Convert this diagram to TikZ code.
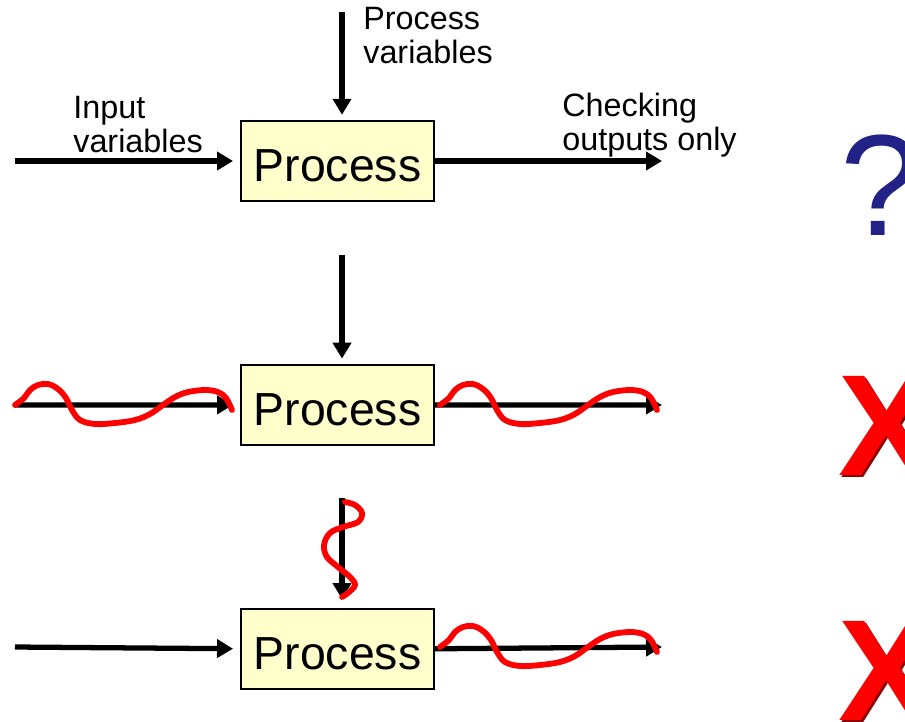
\documentclass[tikz,border=0pt]{standalone}
\usepackage{fontspec}
\setmainfont{Liberation Sans}
\usetikzlibrary{arrows.meta,positioning}
\definecolor{boxfill}{RGB}{255,255,204}
\definecolor{qnavy}{RGB}{34,34,134}
\definecolor{xshade}{RGB}{140,0,0}

\begin{document}
\begin{tikzpicture}[
  x=0.02cm, y=-0.02cm,
  node distance=3.24cm,
  proc/.style={draw, line width=1.1pt, fill=boxfill, inner sep=0pt,
               minimum width=3.86cm, minimum height=1.6cm,
               text height=23.5pt, text depth=0pt,
               font=\fontsize{26.4}{30}\selectfont},
  arr/.style={-{Triangle[length=3.2mm,width=3.6mm]}, line width=3pt},
  lbl/.style={align=left, inner sep=0pt, font=\fontsize{18.4}{19.4}\selectfont},
  noise/.style={red, line width=3.3pt, line cap=round, line join=round},
  verdict/.style={inner sep=0pt, anchor=base west,
                  font=\fontsize{82}{82}\selectfont}
]
  \useasboundingbox (0,0) rectangle (905,721);

  % three copies of the process block
  \node[proc] (p1) at (337.5,161) {Process};
  \node[proc, below=of p1] (p2) {Process};
  \node[proc, below=of p2] (p3) {Process};

  % free ends of the signal lines
  \coordinate (in1)  at (15,161);
  \coordinate (out1) at (662,161);
  \coordinate (pv1)  at (342,12);
  \coordinate (in2)  at (15,405);
  \coordinate (out2) at (662,405);
  \coordinate (pv2)  at (342,255);
  \coordinate (in3)  at (15,647);
  \coordinate (out3) at (662,647);
  \coordinate (pv3)  at (342,498);

  \draw[arr, shorten >=4pt] (in1) -- (p1.west);
  \draw[arr] (p1.east) -- (out1);
  \draw[arr, shorten >=3pt] (pv1) -- (pv1 |- p1.north);
  \draw[arr, shorten >=4pt] (in2) -- (p2.west);
  \draw[arr] (p2.east) -- (out2);
  \draw[arr, shorten >=3pt] (pv2) -- (pv2 |- p2.north);
  \draw[arr, shorten >=4pt] (in3) -- (p3.west);
  \draw[arr] (p3.east) -- (out3);
  \draw[arr, shorten >=5pt] (pv3) -- (pv3 |- p3.north);

  % labels on the first block
  \node[lbl, anchor=north west] (lpv) at (363,7) {Process\\variables};
  \node[lbl, anchor=north west] (lin) at (73,96) {Input\\variables};
  \node[lbl, anchor=north west] (lout) at (562,93) {Checking\\outputs only};

  % disturbed signals
  \foreach \s in {(0,0), (425,0), (425,242)}
    \draw[noise, shift={\s}] plot[smooth, tension=0.6] coordinates {
      (15,405) (24,398) (30,390) (38,385) (48,384) (58,389) (66,398)
      (72,410) (80,420) (95,424) (115,423) (135,420) (150,414) (163,405)
      (175,397) (188,392) (205,390) (218,392) (226,398) (232,410)};
  \draw[noise] plot[smooth, tension=0.6] coordinates {
    (345,502) (355,505) (362,513) (358,522) (343,527) (330,533) (324,545)
    (327,557) (338,567) (350,577) (355,585) (348,593) (342,597)};

  % verdicts on the right
  \node[verdict, text=qnavy] (q1) at (840,235) {?};
  \node[verdict, text=xshade] at (840.5,477.5) {\bfseries X};
  \node[verdict, text=red] (x2) at (838,475) {\bfseries X};
  \node[verdict, text=xshade] at (840.5,722.5) {\bfseries X};
  \node[verdict, text=red] (x3) at (838,720) {\bfseries X};
\end{tikzpicture}
\end{document}
